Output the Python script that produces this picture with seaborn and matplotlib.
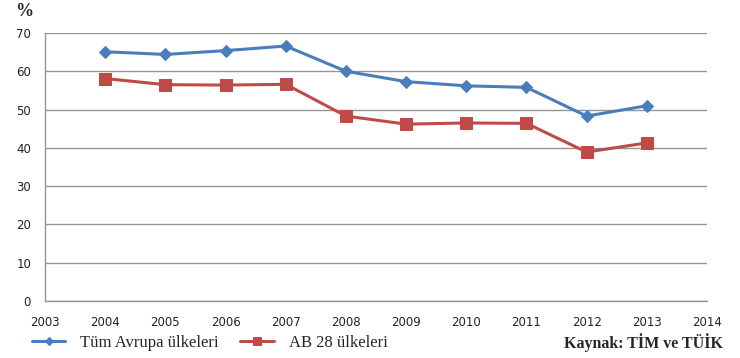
import matplotlib
matplotlib.use("Agg")
import matplotlib.pyplot as plt
import seaborn as sns
import pandas as pd

years = [2004, 2005, 2006, 2007, 2008, 2009, 2010, 2011, 2012, 2013]
tum_avrupa = [65.1, 64.4, 65.4, 66.6, 60.0, 57.3, 56.2, 55.8, 48.3, 51.0]
ab28 = [58.1, 56.5, 56.4, 56.6, 48.3, 46.2, 46.5, 46.4, 38.9, 41.3]
series_names = ["Tüm Avrupa ülkeleri", "AB 28 ülkeleri"]
x_ticks = list(range(2003, 2015))
y_ticks = list(range(0, 80, 10))
source_text = "Kaynak: TİM ve TÜİK"
unit_text = "%"

sns.set_style("white")
plt.rcParams['font.family'] = ['DejaVu Sans']

fig = plt.figure(figsize=(7.4, 3.58), dpi=100)
ax = fig.add_axes([45/740, 1-301/358, (707-45)/740, (301-33)/358])

blue = "#4a7ebb"
red = "#be4b48"

df1 = pd.DataFrame({"year": years, "value": tum_avrupa})
df2 = pd.DataFrame({"year": years, "value": ab28})
sns.lineplot(data=df1, x="year", y="value", ax=ax, color=blue, lw=2.2,
             marker="D", markersize=5.8, markeredgecolor=blue, label=series_names[0], zorder=4)
sns.lineplot(data=df2, x="year", y="value", ax=ax, color=red, lw=2.2,
             marker="s", markersize=8.5, markeredgecolor=red, label=series_names[1], zorder=3)

ax.set_xlim(2003, 2014)
ax.set_ylim(0, 70)
ax.set_xticks(x_ticks)
ax.set_yticks(y_ticks)
ax.set_xlabel("")
ax.set_ylabel("")
ax.yaxis.grid(True, color="#959595", lw=1.0)
ax.set_axisbelow(True)
for s in ["top", "right"]:
    ax.spines[s].set_visible(False)
for s in ["left", "bottom"]:
    ax.spines[s].set_color("#959595")
    ax.spines[s].set_linewidth(1.0)
ax.tick_params(axis="x", direction="out", length=4, width=1, color="#959595",
               labelsize=8.5, pad=7, labelcolor="#222222")
ax.tick_params(axis="y", direction="out", length=4, width=1, color="#959595",
               labelsize=8.5, pad=6, labelcolor="#222222")

ax.get_legend().remove()
h, l = ax.get_legend_handles_labels()
fig.legend(h, l, loc="center left", bbox_to_anchor=(32/740, 1-343/358), ncol=2,
           frameon=False, borderpad=0, borderaxespad=0, handlelength=2.0,
           handletextpad=0.9, columnspacing=1.3, markerscale=0.7,
           prop={"family": "Liberation Serif", "size": 12})

fig.text(723/740, 1-343/358, source_text, ha="right", va="center",
         family="Liberation Serif", weight="bold", size=11.5)
fig.text(15/740, 1-12/358, unit_text, ha="left", va="center",
         family="Liberation Serif", weight="bold", size=13)

fig.savefig("out.png", dpi=100)
